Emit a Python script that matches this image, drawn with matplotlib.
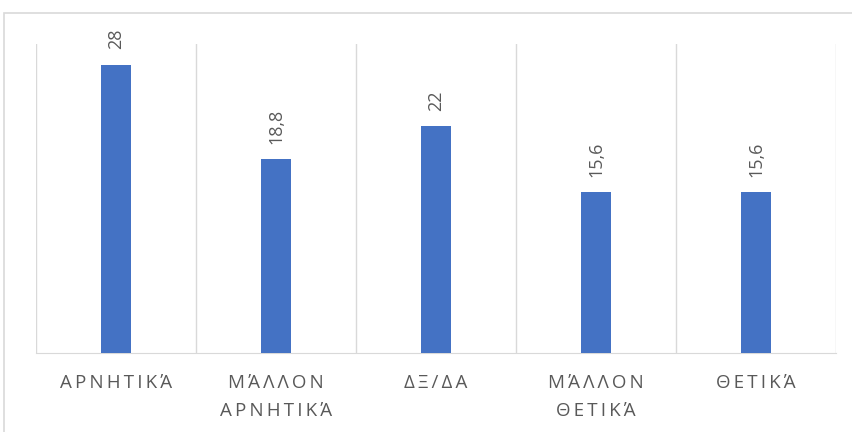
import matplotlib.pyplot as plt
from matplotlib.patches import Rectangle

categories = ["ΑΡΝΗΤΙΚΆ", "ΜΆΛΛΟΝ\nΑΡΝΗΤΙΚΆ", "ΔΞ/ΔΑ", "ΜΆΛΛΟΝ\nΘΕΤΙΚΆ", "ΘΕΤΙΚΆ"]
values = [28, 18.8, 22, 15.6, 15.6]
value_labels = ["28", "18,8", "22", "15,6", "15,6"]

W, H = 853, 432
fig = plt.figure(figsize=(W / 100, H / 100), dpi=100)
fig.patch.set_facecolor("white")

# chart frame (clipped at right/bottom like the screenshot)
fig.patches.append(Rectangle((4 / W, -0.1), 1.0, (H - 13) / H + 0.1, transform=fig.transFigure,
                             fill=False, edgecolor="#D9D9D9", linewidth=1.2))

ax = fig.add_axes([36 / W, (H - 353) / H, 800 / W, 309 / H])
x = range(len(categories))
ax.bar(x, values, width=0.19, color="#4472C4", zorder=3)
ax.set_xlim(-0.5, len(categories) - 0.5)
ax.set_ylim(0, 30)

# category gridlines
for b in [i - 0.5 for i in range(len(categories) + 1)]:
    ax.axvline(b, color="#D9D9D9", linewidth=1, zorder=1)

for s in ["top", "right", "left"]:
    ax.spines[s].set_visible(False)
ax.spines["bottom"].set_color("#D9D9D9")
ax.set_yticks([])

spaced = ["\n".join("\u2009".join(line) for line in c.split("\n")) for c in categories]
ax.set_xticks(list(x))
ax.set_xticklabels(spaced, color="#595959", fontsize=13.5, family=["Open Sans", "DejaVu Sans"],
                   linespacing=1.75, va="top")
ax.tick_params(axis="x", length=0, pad=15)

for i, (v, lab) in enumerate(zip(values, value_labels)):
    ax.annotate(lab, (i, v), xytext=(0, 11), textcoords="offset points", rotation=90,
                ha="center", va="bottom", color="#595959", fontsize=13,
                family=["Open Sans", "DejaVu Sans"])

fig.savefig("out.png", dpi=100)
